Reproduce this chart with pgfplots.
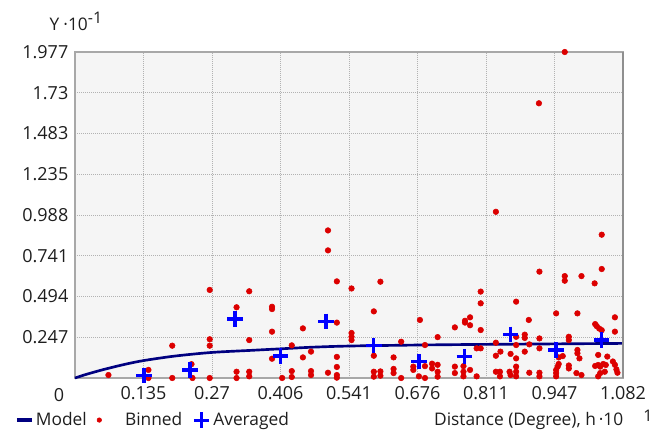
\documentclass[border=0pt]{standalone}
\usepackage{fontspec}
\setmainfont{Open Sans}
\usepackage{pgfplots}
\pgfplotsset{compat=1.18}

\definecolor{bgfill}{RGB}{245,245,245}
\definecolor{bordergray}{RGB}{168,168,168}
\definecolor{gridgray}{RGB}{178,178,178}
\definecolor{dotred}{RGB}{220,0,0}
\definecolor{avgblue}{RGB}{0,0,255}
\definecolor{modelnavy}{RGB}{0,0,128}
\definecolor{txt}{RGB}{30,30,30}

\begin{document}
\begin{tikzpicture}
% 1 px of the reference = 0.75pt
\useasboundingbox (0,0) rectangle (500.25pt,327.75pt);
\begin{axis}[
    at={(56.25pt,44.25pt)}, anchor=south west,
    width=411pt, height=244.5pt, scale only axis,
    xmin=0, xmax=1.082, ymin=0, ymax=1.977,
    xtick={0.13525,0.2705,0.40575,0.541,0.67625,0.8115,0.94675,1.082},
    xticklabels={0.135,0.27,0.406,0.541,0.676,0.811,0.947,1.082},
    ytick={0.247125,0.49425,0.741375,0.9885,1.235625,1.48275,1.729875,1.977},
    yticklabels={0.247,0.494,0.741,0.988,1.235,1.483,1.73,1.977},
    grid=major,
    major grid style={draw=gridgray, line width=0.75pt, dash pattern=on 0.75pt off 0.75pt},
    axis background/.style={fill=bgfill},
    axis line style={draw=bordergray, line width=1.2pt},
    major tick length=0pt, tick style={draw=none},
    tick label style={font=\fontsize{13.5}{15}\selectfont, text=txt},
    xticklabel shift=2.5pt, yticklabel shift=1.5pt,
    clip=false,
    legend columns=3,
    legend style={at={(-0.1095,-0.129)}, anchor=west, draw=none, fill=none,
        inner sep=0pt, font=\fontsize{13}{15}\selectfont, text=txt,
        /tikz/every even column/.append style={column sep=5.5pt}},
]
\addplot[modelnavy, line width=2pt, smooth,
    legend image code/.code={\draw[modelnavy, line width=2.5pt] (0pt,0pt) -- (11pt,0pt);}]
  coordinates {
    (0,0) (0.02,0.02) (0.045,0.042) (0.066,0.059) (0.1,0.084) (0.136,0.106)
    (0.197,0.133) (0.27,0.155) (0.35,0.168) (0.406,0.177) (0.47,0.187)
    (0.543,0.194) (0.678,0.200) (0.81,0.204) (0.95,0.207) (1.082,0.210)
  };
\addlegendentry{Model}

\addplot[only marks, mark=*, mark size=2.1pt, draw=dotred, fill=dotred,
    legend image code/.code={\path[draw=none, fill=none] (0pt,0pt) rectangle (19pt,0.1pt); \fill[dotred] (1.7pt,0pt) circle (1.7pt);}]
  table {
x y
0.066 0.018
0.145 0.049
0.145 0.000
0.192 0.196
0.192 0.000
0.230 0.084
0.232 0.000
0.266 0.534
0.266 0.235
0.266 0.196
0.266 0.000
0.319 0.429
0.319 0.038
0.319 0.000
0.344 0.526
0.344 0.230
0.344 0.038
0.344 0.010
0.389 0.432
0.389 0.418
0.389 0.281
0.389 0.117
0.409 0.000
0.428 0.198
0.428 0.042
0.428 0.006
0.450 0.301
0.450 0.125
0.466 0.160
0.466 0.042
0.466 0.018
0.4995 0.895
0.4995 0.774
0.4995 0.032
0.517 0.586
0.517 0.336
0.517 0.128
0.517 0.067
0.517 0.018
0.517 0.002
0.546 0.543
0.546 0.273
0.546 0.250
0.546 0.230
0.603 0.584
0.590 0.404
0.590 0.135
0.590 0.038
0.590 0.008
0.603 0.040
0.603 0.014
0.629 0.125
0.629 0.055
0.629 0.030
0.644 0.220
0.644 0.000
0.681 0.352
0.691 0.200
0.668 0.069
0.668 0.049
0.679 0.010
0.691 0.072
0.691 0.000
0.705 0.087
0.705 0.058
0.716 0.248
0.716 0.080
0.716 0.038
0.716 0.008
0.750 0.307
0.750 0.069
0.750 0.030
0.770 0.347
0.770 0.336
0.780 0.368
0.780 0.320
0.767 0.072
0.767 0.038
0.767 0.010
0.780 0.049
0.793 0.010
0.801 0.524
0.801 0.453
0.801 0.291
0.793 0.180
0.801 0.180
0.831 1.008
0.871 0.463
0.896 0.352
0.831 0.214
0.831 0.135
0.831 0.038
0.839 0.038
0.839 0.010
0.840 0.160
0.860 0.146
0.858 0.038
0.860 0.018
0.871 0.250
0.871 0.200
0.871 0.119
0.871 0.069
0.871 0.038
0.871 0.010
0.888 0.263
0.888 0.243
0.888 0.160
0.897 0.204
0.897 0.032
0.917 0.645
0.917 0.240
0.917 0.180
0.917 0.032
0.917 0.010
0.950 0.392
0.955 0.125
0.955 0.085
0.953 0.069
0.950 0.049
0.950 0.030
0.950 0.010
0.967 0.618
0.967 0.590
0.975 0.250
0.975 0.230
0.975 0.076
0.975 0.058
0.963 0.133
0.992 0.392
0.992 0.170
0.992 0.150
0.996 0.119
0.990 0.030
1.000 0.018
1.000 0.618
1.026 0.574
1.040 0.869
1.040 0.661
1.027 0.327
1.030 0.315
1.035 0.300
1.040 0.290
1.033 0.140
1.033 0.079
1.027 0.073
1.037 0.069
1.043 0.085
1.048 0.079
1.051 0.130
1.046 0.038
1.037 0.030
1.033 0.010
1.066 0.368
1.066 0.281
1.062 0.100
1.066 0.080
1.069 0.052
1.071 0.032
0.967 1.977
0.916 1.666
  };
\addlegendentry{Binned}

\addplot[only marks, mark=+, mark size=5.8pt, line width=2.5pt, avgblue,
    legend image code/.code={\draw[avgblue, line width=2.3pt] (0pt,0pt) -- (11.5pt,0pt) (5.75pt,-5.75pt) -- (5.75pt,5.75pt);}]
  coordinates {
    (0.136,0.014) (0.227,0.049) (0.316,0.358) (0.406,0.133) (0.4955,0.344)
    (0.590,0.196) (0.679,0.099) (0.769,0.130) (0.860,0.265) (0.950,0.170)
    (1.040,0.230)
  };
\addlegendentry{Averaged}

\draw[bordergray!85!black, line width=1.6pt] (rel axis cs:1,0) -- (rel axis cs:1,1);
\end{axis}
\node[anchor=center, font=\fontsize{13.5}{15}\selectfont, text=txt] at (44.25pt,31.5pt) {0};
\node[anchor=base west, font=\fontsize{13}{15}\selectfont, text=txt] at (33.75pt,305pt)
  {Y\hspace{3pt}·10\raisebox{5pt}{\fontsize{12}{14}\selectfont -1}};
\node[anchor=base east, font=\fontsize{13}{15}\selectfont, text=txt] at (471pt,8.5pt)
  {Distance (Degree), h\,·10};
\node[anchor=base west, font=\fontsize{12}{14}\selectfont, text=txt] at (479pt,12pt) {1};
\end{tikzpicture}
\end{document}
